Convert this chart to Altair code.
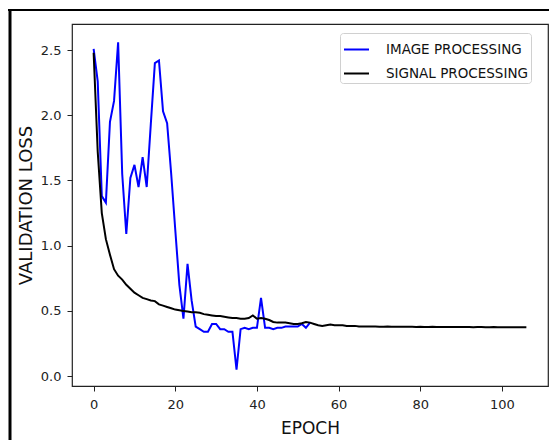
import altair as alt
import pandas as pd

image_loss = [2.51, 2.26, 1.38, 1.33, 1.95, 2.11, 2.56, 1.55, 1.09, 1.52,
              1.62, 1.45, 1.68, 1.45, 1.93, 2.40, 2.42, 2.03, 1.94, 1.55,
              1.12, 0.70, 0.44, 0.86, 0.58, 0.38, 0.36, 0.34, 0.34, 0.40,
              0.40, 0.36, 0.36, 0.34, 0.34, 0.05, 0.36, 0.37, 0.36, 0.37,
              0.37, 0.60, 0.37, 0.37, 0.36, 0.37, 0.37, 0.38, 0.38, 0.38,
              0.38, 0.40, 0.37, 0.41]

signal_loss = [2.48, 1.72, 1.25, 1.05, 0.93, 0.82, 0.77, 0.74, 0.70, 0.67,
               0.64, 0.62, 0.60, 0.59, 0.58, 0.575, 0.55, 0.54, 0.53, 0.52,
               0.51, 0.505, 0.50, 0.495, 0.49, 0.49, 0.485, 0.475, 0.47, 0.465,
               0.46, 0.46, 0.455, 0.45, 0.445, 0.445, 0.44, 0.44, 0.445, 0.465,
               0.44, 0.445, 0.44, 0.43, 0.415, 0.41, 0.41, 0.41, 0.405, 0.40,
               0.40, 0.405, 0.415, 0.41, 0.40, 0.39, 0.385, 0.39, 0.395, 0.39,
               0.39, 0.39, 0.385, 0.385, 0.385, 0.38, 0.38, 0.38, 0.38, 0.38,
               0.379, 0.379, 0.38, 0.379, 0.378, 0.378, 0.379, 0.378, 0.378, 0.377,
               0.378, 0.377, 0.377, 0.378, 0.377, 0.377, 0.376, 0.377, 0.376, 0.376,
               0.376, 0.377, 0.376, 0.375, 0.376, 0.376, 0.375, 0.375, 0.376, 0.375,
               0.375, 0.375, 0.375, 0.374, 0.375, 0.375, 0.375]

series_names = ["IMAGE PROCESSING", "SIGNAL PROCESSING"]
series_colors = ["#0000ff", "#000000"]
x_ticks = [0, 20, 40, 60, 80, 100]
y_ticks = [0.0, 0.5, 1.0, 1.5, 2.0, 2.5]

rows = []
for i, v in enumerate(image_loss):
    rows.append({"epoch": i, "loss": v, "series": series_names[0]})
for i, v in enumerate(signal_loss):
    rows.append({"epoch": i, "loss": v, "series": series_names[1]})
df = pd.DataFrame(rows)

lines = alt.Chart(df).mark_line(strokeWidth=2, clip=True).encode(
    x=alt.X("epoch:Q",
            scale=alt.Scale(domain=[-5.3, 111.3], nice=False, zero=False),
            axis=alt.Axis(values=x_ticks, title="EPOCH", format="d",
                          labelPadding=7, titlePadding=9, titleFontSize=17)),
    y=alt.Y("loss:Q",
            scale=alt.Scale(domain=[-0.076, 2.70], nice=False, zero=False),
            axis=alt.Axis(values=y_ticks, title="VALIDATION LOSS", format=".1f",
                          labelPadding=6, titlePadding=5, titleFontSize=18)),
    color=alt.Color("series:N",
                    scale=alt.Scale(domain=series_names, range=series_colors),
                    legend=alt.Legend(title=None, orient="none", legendX=268, legendY=9,
                                      symbolType="stroke", symbolSize=625,
                                      symbolStrokeWidth=2, labelFontSize=13.5,
                                      labelFont="DejaVu Sans", labelColor="#111",
                                      labelOffset=16, rowPadding=4,
                                      padding=3, strokeColor="#d0d0d0",
                                      fillColor="white", cornerRadius=3)),
    detail="series:N",
)

frame_top = alt.Chart(pd.DataFrame({"a": [0]})).mark_rule(color="black", strokeWidth=2).encode(
    x=alt.value(-64), x2=alt.value(490), y=alt.value(-14))
frame_left = alt.Chart(pd.DataFrame({"a": [0]})).mark_rule(color="black", strokeWidth=3).encode(
    x=alt.value(-62), y=alt.value(-15), y2=alt.value(430))

chart = alt.layer(frame_top, frame_left, lines).properties(
    width=476, height=362,
    autosize=alt.AutoSizeParams(type="none"),
    padding={"left": 64, "top": 16, "right": 1, "bottom": 54},
).configure_view(stroke="#222", strokeWidth=1.2).configure_axis(
    grid=False, domain=False, tickColor="#222", tickSize=5, tickWidth=1,
    labelFont="DejaVu Sans", labelFontSize=13, labelColor="#222",
    titleFont="DejaVu Sans", titleFontWeight="normal", titleColor="#111",
)

chart.save("out.html", embed_options={"renderer": "svg", "actions": False})
